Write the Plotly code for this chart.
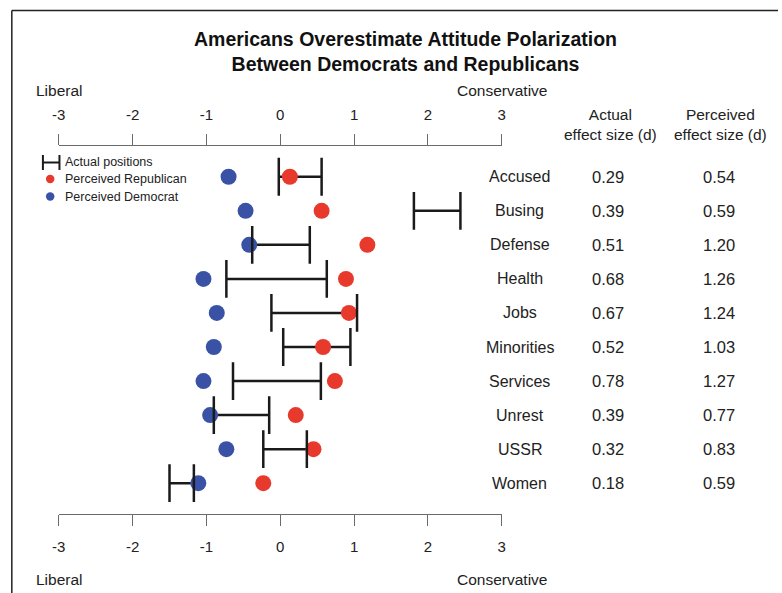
import plotly.graph_objects as go

# ---------------- data ----------------
issues = ["Accused", "Busing", "Defense", "Health", "Jobs", "Minorities",
          "Services", "Unrest", "USSR", "Women"]
actual_lo = [-0.02, 1.81, -0.38, -0.73, -0.12, 0.04, -0.64, -0.90, -0.23, -1.50]
actual_hi = [0.56, 2.44, 0.40, 0.63, 1.04, 0.95, 0.55, -0.15, 0.36, -1.17]
perceived_rep = [0.13, 0.56, 1.18, 0.89, 0.93, 0.58, 0.74, 0.21, 0.45, -0.23]
perceived_dem = [-0.70, -0.47, -0.42, -1.04, -0.86, -0.90, -1.04, -0.95, -0.73, -1.11]
actual_d = ["0.29", "0.39", "0.51", "0.68", "0.67", "0.52", "0.78", "0.39", "0.32", "0.18"]
perceived_d = ["0.54", "0.59", "1.20", "1.26", "1.24", "1.03", "1.27", "0.77", "0.83", "0.59"]
tick_vals = [-3, -2, -1, 0, 1, 2, 3]
tick_text = ["-3", "-2", "-1", "0", "1", "2", "3"]

# ---------------- style ----------------
W, H = 782, 593
FONT = "Liberation Sans, Arial, Helvetica, sans-serif"
RED = "#E8392D"
BLUE = "#3A52A6"
BAR = "#1a1a1a"
AXC = "#6a6a6a"
TXT = "#222222"

# horizontal compensation for the capture (screen px -> figure px)
SX_A, SX_B = 0.983, 7.7


def px(X):
    return ((X - SX_B) / SX_A) / W


def py(y):
    return 1 - y / H


fig = go.Figure()

# actual position bars (horizontal segments)
seg_x, seg_y = [], []
for iss, lo, hi in zip(issues, actual_lo, actual_hi):
    seg_x += [lo, hi, None]
    seg_y += [iss, iss, None]
fig.add_trace(go.Scatter(x=seg_x, y=seg_y, mode="lines",
                         line=dict(color=BAR, width=2.5),
                         hoverinfo="skip", showlegend=False))

# perceived dots
fig.add_trace(go.Scatter(x=perceived_dem, y=issues, mode="markers",
                         marker=dict(color=BLUE, size=16, line=dict(width=0)),
                         name="Perceived Democrat", showlegend=False))
fig.add_trace(go.Scatter(x=perceived_rep, y=issues, mode="markers",
                         marker=dict(color=RED, size=16, line=dict(width=0)),
                         name="Perceived Republican", showlegend=False))

# end caps of the actual bars (drawn on top)
fig.add_trace(go.Scatter(x=actual_lo + actual_hi, y=issues + issues, mode="markers",
                         marker=dict(symbol="line-ns", size=27,
                                     line=dict(color=BAR, width=2.5)),
                         hoverinfo="skip", showlegend=False))

# invisible trace on top axis
fig.add_trace(go.Scatter(x=[-3, 3], y=[issues[0], issues[0]], xaxis="x2",
                         mode="markers", marker=dict(opacity=0),
                         hoverinfo="skip", showlegend=False))

axis_common = dict(range=[-3, 3], tickvals=tick_vals, ticktext=tick_text,
                   ticks="outside", ticklen=11, tickwidth=1, tickcolor=AXC,
                   showline=True, linecolor=AXC, linewidth=1,
                   showgrid=False, zeroline=False,
                   tickfont=dict(family=FONT, size=15, color=TXT),
                   domain=[px(59.3), px(501)], fixedrange=True)

fig.update_layout(
    width=W, height=H,
    margin=dict(l=0, r=0, t=0, b=0),
    paper_bgcolor="white", plot_bgcolor="white",
    showlegend=False,
    xaxis=dict(**axis_common, side="bottom", anchor="y", ticklabelstandoff=8),
    xaxis2=dict(**axis_common, side="top", anchor="y", overlaying="x",
                ticklabelstandoff=8),
    yaxis=dict(type="category", categoryarray=issues, range=[9.89, -0.903],
               visible=False, domain=[py(513.5), py(146)], fixedrange=True),
)

ann = []
# title
ann.append(dict(x=px(405), y=py(51), xref="paper", yref="paper",
                text="<b>Americans Overestimate Attitude Polarization<br>Between Democrats and Republicans</b>",
                showarrow=False, xanchor="center", yanchor="middle",
                font=dict(family=FONT, size=19.5, color="#111")))

# Liberal / Conservative labels
for yy in (91, 579):
    ann.append(dict(x=px(35), y=py(yy), xref="paper", yref="paper", text="Liberal",
                    showarrow=False, xanchor="left", yanchor="middle",
                    font=dict(family=FONT, size=15.5, color=TXT)))
    ann.append(dict(x=px(548), y=py(yy), xref="paper", yref="paper", text="Conservative",
                    showarrow=False, xanchor="right", yanchor="middle",
                    font=dict(family=FONT, size=15.5, color=TXT)))

# column headers
for cx, t1 in ((609, "Actual"), (719, "Perceived")):
    ann.append(dict(x=px(cx), y=py(125), xref="paper", yref="paper",
                    text=t1 + "<br>effect size (d)",
                    showarrow=False, xanchor="center", yanchor="middle",
                    font=dict(family=FONT, size=15.5, color=TXT)))

# row labels and values
for iss, a, p in zip(issues, actual_d, perceived_d):
    ann.append(dict(x=px(519), y=iss, xref="paper", yref="y", text=iss,
                    showarrow=False, xanchor="center", yanchor="middle",
                    font=dict(family=FONT, size=16, color=TXT)))
    ann.append(dict(x=px(607), y=iss, xref="paper", yref="y", text=a,
                    showarrow=False, xanchor="center", yanchor="middle",
                    font=dict(family=FONT, size=16.5, color=TXT)))
    ann.append(dict(x=px(717.5), y=iss, xref="paper", yref="y", text=p,
                    showarrow=False, xanchor="center", yanchor="middle",
                    font=dict(family=FONT, size=16.5, color=TXT)))

# legend texts
for yy, t in ((162.5, "Actual positions"), (179, "Perceived Republican"),
              (196.5, "Perceived Democrat")):
    ann.append(dict(x=px(64), y=py(yy), xref="paper", yref="paper", text=t,
                    showarrow=False, xanchor="left", yanchor="middle",
                    font=dict(family=FONT, size=12.5, color=TXT)))

shapes = []
# frame
shapes.append(dict(type="line", xref="paper", yref="paper",
                   x0=px(12.5), x1=1, y0=py(10.5), y1=py(10.5),
                   line=dict(color="#222", width=1.5)))
shapes.append(dict(type="line", xref="paper", yref="paper",
                   x0=px(12.5), x1=px(12.5), y0=py(10.5), y1=0,
                   line=dict(color="#222", width=1.5)))
# legend bracket
shapes.append(dict(type="line", xref="paper", yref="paper",
                   x0=px(43.5), x1=px(60), y0=py(162.5), y1=py(162.5),
                   line=dict(color=BAR, width=2)))
for xx in (43.5, 60):
    shapes.append(dict(type="line", xref="paper", yref="paper",
                       x0=px(xx), x1=px(xx), y0=py(155), y1=py(170),
                       line=dict(color=BAR, width=2)))
# legend dots
for yc, col in ((179, RED), (196.5, BLUE)):
    shapes.append(dict(type="circle", xref="paper", yref="paper",
                       x0=px(46.5), x1=px(55), y0=py(yc + 4.2), y1=py(yc - 4.2),
                       fillcolor=col, line=dict(width=0)))

fig.update_layout(annotations=ann, shapes=shapes)
fig.write_html(
    "out.html",
    config={"responsive": False, "displayModeBar": False},
    post_script="document.body.style.margin='0';document.body.style.padding='0';"
                "document.body.style.overflow='hidden';",
)
